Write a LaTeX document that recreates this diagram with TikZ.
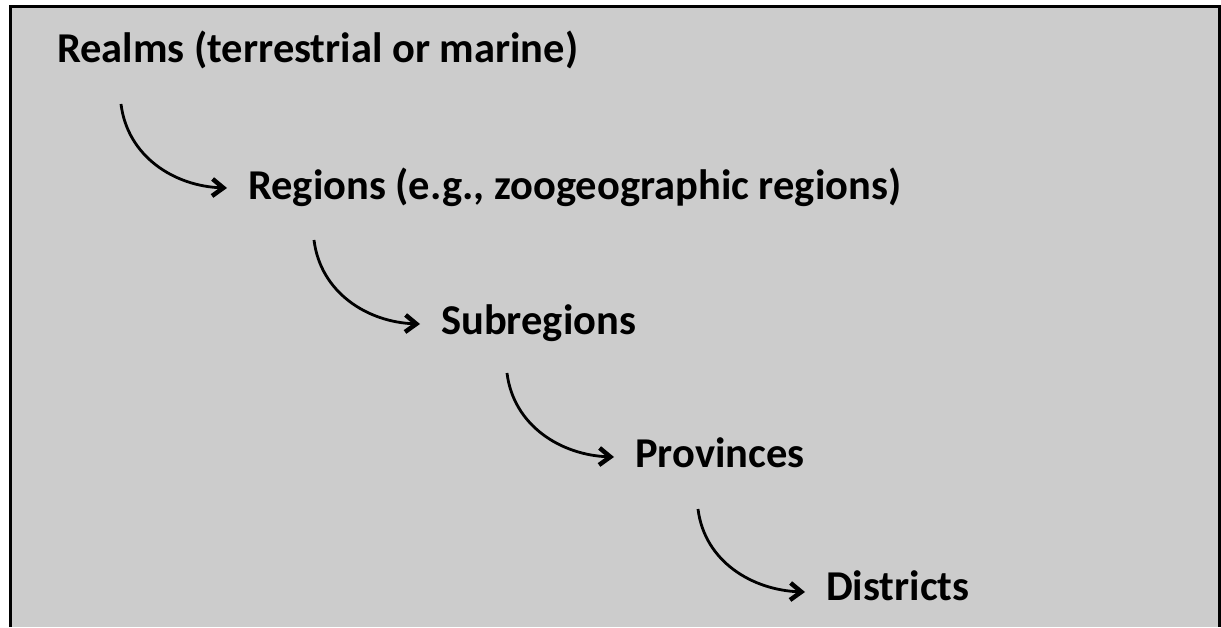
\documentclass[tikz,border=0pt]{standalone}
\usepackage{fontspec}
\setmainfont{Carlito}
\usepackage{tikz}
\usetikzlibrary{arrows.meta,positioning}
\definecolor{PanelGray}{HTML}{CCCCCC}

\begin{document}
\begin{tikzpicture}[x=1pt,y=1pt,
      level/.style={inner sep=0pt,anchor=base west,
      font=\fontsize{42.5}{50}\selectfont\bfseries},
      flow/.style={-{Straight Barb[length=11pt,width=17pt,line width=4.5pt]},
      line width=2.8pt,black}]
      \useasboundingbox (0,0) rectangle (1221,627);
      \fill[PanelGray] (10,0) rectangle (1219,620);
      \draw[line width=3pt] (10,0) -- (10,620) -- (1219,620) -- (1219,0);
      \node[level] (realms) at (57,564) {Realms (terrestrial or marine)};
      \node[level] (regions) at (248,427) {Regions (e.g., zoogeographic regions)};
      \node[level] (subregions) at (441,292) {Subregions};
      \node[level] (provinces) at (635,159) {Provinces};
      \node[level] (districts) at (826,27) {Districts};
      \draw[flow] ([xshift=64pt,yshift=-41pt]realms.base west)
        to[out=-83,in=178] ([xshift=-21pt,yshift=12pt]regions.base west);
      \draw[flow] ([xshift=66pt,yshift=-40pt]regions.base west)
        to[out=-83,in=178] ([xshift=-21pt,yshift=11pt]subregions.base west);
      \draw[flow] ([xshift=66pt,yshift=-38pt]subregions.base west)
        to[out=-83,in=178] ([xshift=-21pt,yshift=11pt]provinces.base west);
      \draw[flow] ([xshift=63pt,yshift=-41pt]provinces.base west)
        to[out=-83,in=178] ([xshift=-21pt,yshift=8pt]districts.base west);
    \end{tikzpicture}
\end{document}
